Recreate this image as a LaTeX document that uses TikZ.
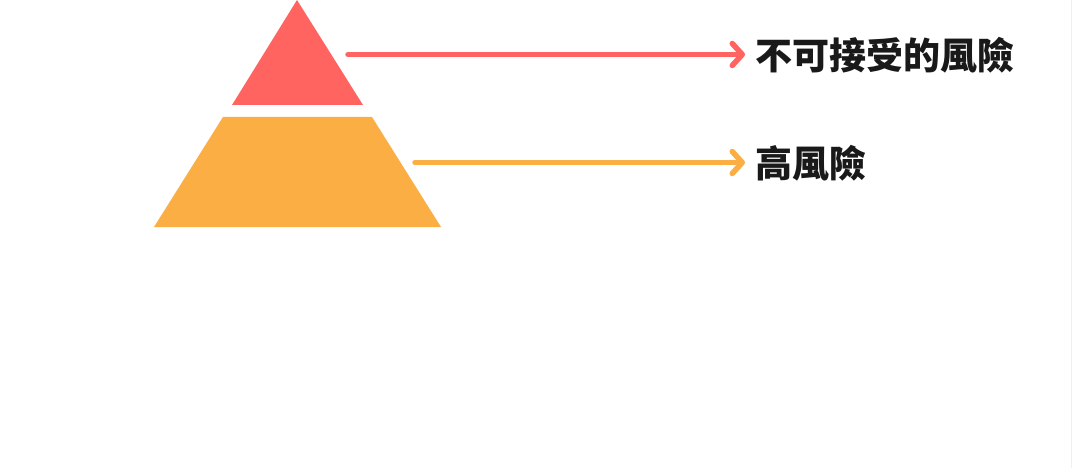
\documentclass[tikz,border=0pt]{standalone}
\usepackage{fontspec}
\newfontfamily\cjk{Noto Sans CJK TC}
\usetikzlibrary{arrows.meta}
\definecolor{riskred}{HTML}{FF6461}
\definecolor{riskorange}{HTML}{FBAE44}
\tikzset{
  pointer/.style={line width=5.5pt, line cap=round,
    -{Straight Barb[length=10pt,width=22pt,line cap=round,line join=round]}},
  lbl/.style={anchor=base west, inner sep=0pt, font=\cjk\bfseries\fontsize{37pt}{40pt}\selectfont, text=black!90}
}
\begin{document}
\begin{tikzpicture}[x=1pt,y=-1pt]
\useasboundingbox (0,0) rectangle (1073,468);
\fill[white] (0,0) rectangle (1073,468);
\draw[gray!12, line width=1pt] (1071.5,0) -- (1071.5,468);
% levels
\fill[riskred] (297,0) -- (363,105) -- (232,105) -- cycle;
\fill[riskorange] (223,117) -- (372,117) -- (441,227) -- (154,227) -- cycle;
% anchors
\coordinate (r0) at (348,54.5);
\coordinate (o0) at (415,162.5);
\node[lbl] (rl) at (755.5,69.5) {不可接受的風險};
\node[lbl] (ol) at (755.5,177.5) {高風險};
\coordinate (r1) at (745,54.5);
\coordinate (o1) at (745,162.5);
\draw[pointer, riskred] (r0) -- (r1);
\draw[pointer, riskorange] (o0) -- (o1);
\end{tikzpicture}
\end{document}
